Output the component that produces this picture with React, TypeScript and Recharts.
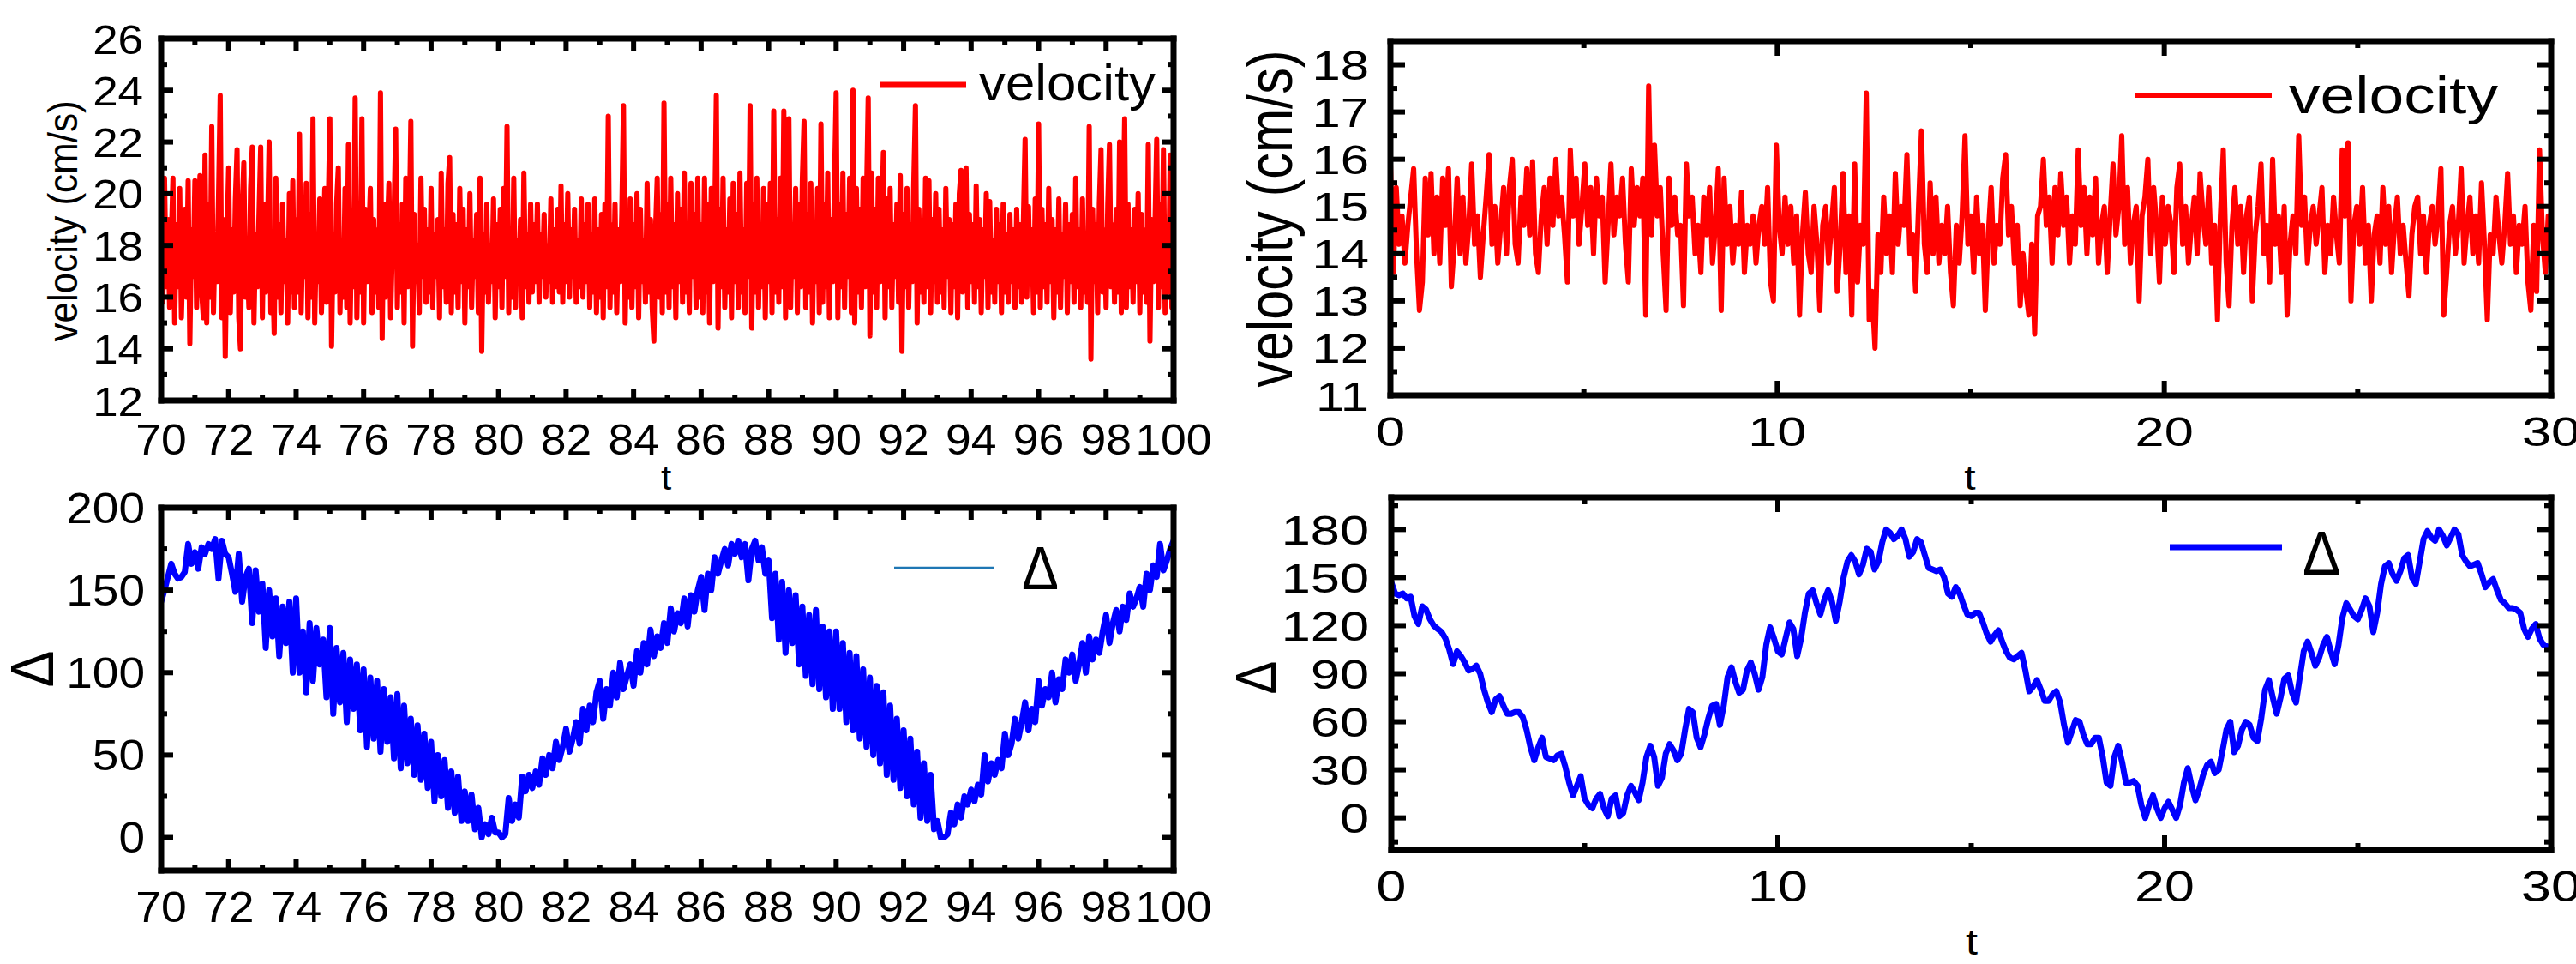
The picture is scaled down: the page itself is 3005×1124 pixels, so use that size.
import { LineChart, Line, XAxis, YAxis, Legend } from 'recharts'

const FONT = '"Liberation Sans", Arial, Helvetica, sans-serif'

// velocity, t = 70 .. 100, step 0.05 (one row per unit of t)
const velLeft = [
  20.4, 15.8, 20.6, 16.4, 19.0, 15.6, 18.2, 20.6, 15.0, 18.8, 16.4, 20.2, 15.2, 17.8, 19.4, 16.0, 20.5, 14.2, 18.6, 16.8,
  20.5, 15.6, 18.8, 20.7, 16.2, 15.2, 21.5, 15.0, 19.6, 16.0, 22.6, 15.4, 18.4, 16.6, 19.8, 23.8, 15.2, 19.0, 13.7, 18.2,
  21.0, 15.4, 18.6, 16.2, 19.8, 21.7, 15.2, 14.0, 19.4, 21.2, 16.0, 17.6, 15.6, 20.2, 21.8, 15.0, 18.4, 16.4, 19.2, 21.8,
  15.2, 19.6, 16.2, 18.4, 22.0, 15.4, 17.2, 14.6, 20.6, 16.0, 18.8, 15.4, 19.6, 16.6, 18.2, 15.0, 20.0, 16.2, 20.5, 15.6,
  19.0, 16.2, 22.3, 15.4, 18.6, 16.8, 20.4, 15.2, 19.2, 16.0, 22.9, 15.0, 18.2, 16.6, 19.8, 15.4, 17.6, 20.2, 15.8, 19.2,
  22.9, 14.1, 18.4, 16.2, 19.6, 21.0, 15.4, 18.2, 16.0, 20.2, 15.6, 21.9, 15.0, 18.6, 16.4, 23.7, 15.2, 19.0, 16.2, 22.9,
  15.0, 19.4, 16.6, 18.2, 20.2, 15.4, 19.0, 16.2, 18.6, 15.6, 23.9, 14.4, 19.6, 16.0, 18.4, 20.4, 15.2, 17.8, 19.0, 22.5,
  15.6, 18.8, 16.2, 19.6, 15.0, 20.6, 16.4, 18.2, 22.8, 14.1, 19.2, 16.6, 18.0, 15.4, 20.6, 16.8, 19.4, 15.8, 18.6, 16.2,
  20.2, 15.6, 18.4, 16.8, 19.0, 15.2, 20.8, 16.4, 18.6, 15.8, 20.4, 21.4, 15.4, 19.2, 16.2, 18.8, 15.6, 20.2, 16.6, 19.4,
  15.0, 18.6, 16.4, 20.0, 15.6, 18.2, 16.8, 19.2, 15.4, 20.6, 13.9, 18.4, 16.2, 19.6, 15.8, 18.0, 16.6, 19.8, 15.2, 18.8,
  16.4, 19.4, 15.6, 20.2, 16.8, 22.6, 15.4, 18.6, 16.0, 20.6, 15.6, 18.2, 16.6, 19.0, 15.2, 20.8, 16.4, 18.4, 15.8, 19.6,
  16.2, 18.8, 16.6, 19.6, 15.8, 18.4, 16.8, 19.2, 16.0, 18.0, 16.6, 19.8, 15.8, 18.6, 16.4, 19.4, 16.2, 20.3, 15.8, 18.8,
  16.6, 20.0, 16.0, 18.6, 16.8, 19.4, 15.8, 18.2, 16.4, 19.8, 16.0, 18.8, 16.6, 19.6, 15.6, 18.4, 16.2, 19.8, 15.4, 18.6,
  16.0, 19.2, 15.2, 19.6, 16.4, 23.0, 15.6, 18.8, 16.2, 19.6, 15.4, 18.6, 16.6, 19.2, 23.4, 15.0, 18.4, 16.0, 19.8, 15.6,
  18.8, 16.4, 20.0, 15.2, 19.4, 16.6, 18.2, 15.8, 20.4, 16.2, 19.0, 15.6, 14.3, 18.6, 20.6, 16.0, 19.2, 15.4, 23.5, 16.2,
  19.6, 15.6, 20.6, 16.4, 18.8, 15.2, 20.0, 16.6, 19.4, 15.8, 20.8, 16.2, 18.6, 15.4, 20.4, 16.8, 19.2, 15.6, 20.6, 16.0,
  18.8, 15.4, 20.6, 16.2, 19.6, 15.0, 20.2, 16.6, 18.8, 23.8, 14.8, 19.4, 16.4, 20.6, 15.6, 18.6, 16.2, 19.8, 15.2, 20.4,
  16.6, 19.2, 15.6, 20.8, 16.2, 18.6, 15.4, 20.4, 16.8, 23.4, 14.8, 19.6, 16.2, 20.6, 15.6, 18.8, 16.4, 20.2, 15.2, 19.6,
  16.6, 20.4, 15.4, 23.2, 16.2, 19.0, 15.8, 20.6, 16.4, 23.2, 15.2, 19.4, 22.9, 15.6, 18.8, 16.8, 20.2, 15.4, 19.6, 16.4,
  20.6, 22.8, 15.6, 19.2, 16.2, 20.4, 15.0, 18.8, 16.6, 20.2, 15.4, 22.7, 15.8, 19.6, 16.4, 20.8, 15.2, 19.0, 16.6, 20.4,
  23.9, 15.2, 19.6, 16.4, 20.8, 15.6, 19.2, 16.8, 20.6, 15.4, 24.0, 15.0, 20.2, 16.2, 19.4, 15.6, 20.6, 16.4, 19.8, 23.7,
  14.5, 20.8, 16.2, 19.4, 15.6, 20.6, 16.6, 19.0, 21.6, 15.2, 19.8, 16.4, 20.2, 15.6, 18.8, 16.8, 19.6, 15.8, 20.7, 13.9,
  19.2, 16.4, 20.2, 15.6, 18.8, 16.6, 20.4, 23.4, 15.0, 19.4, 16.2, 18.6, 15.8, 20.6, 16.4, 20.5, 15.4, 19.0, 16.6, 20.0,
  15.8, 19.4, 16.2, 18.6, 15.6, 20.2, 16.8, 19.0, 15.4, 18.8, 16.4, 19.6, 15.2, 20.0, 20.9, 16.2, 18.4, 21.0, 15.6, 19.2,
  16.6, 18.8, 15.8, 20.3, 16.4, 19.0, 15.4, 18.6, 16.8, 20.0, 15.6, 19.7, 16.2, 18.2, 15.8, 19.4, 16.6, 18.8, 15.4, 19.6,
  16.2, 18.4, 15.8, 19.2, 16.6, 18.6, 15.6, 19.4, 16.4, 18.8, 15.8, 19.0, 22.1, 16.0, 19.5, 16.6, 18.6, 15.4, 19.8, 16.2,
  22.7, 15.6, 19.4, 16.4, 18.8, 15.8, 20.2, 16.6, 19.0, 15.2, 18.6, 16.2, 19.8, 15.6, 18.4, 16.8, 19.6, 15.4, 18.8, 16.6,
  19.2, 15.8, 20.6, 16.4, 18.6, 15.6, 19.8, 16.2, 18.4, 15.8, 22.6, 13.6, 19.4, 16.6, 18.8, 15.4, 19.6, 21.7, 16.2, 18.6,
  15.6, 19.6, 21.9, 16.4, 18.8, 15.8, 19.4, 16.2, 22.0, 15.4, 18.8, 22.9, 15.6, 19.6, 16.4, 18.6, 15.8, 19.4, 16.6, 20.0,
  15.4, 19.2, 16.2, 18.6, 15.8, 21.9, 14.3, 19.0, 16.6, 18.8, 22.1, 15.6, 19.6, 16.4, 21.7, 15.4, 18.8, 16.2, 21.5, 15.6,
  18.4,
]

// velocity, t = 0 .. 30, step 0.075 (one row per 1.5 of t)
const velRight = [
  15.9, 13.6, 15.4, 14.2, 14.8, 13.8, 14.6, 15.2, 15.8, 14.0, 12.8, 13.4, 15.6, 14.4, 15.7, 14.0, 15.2, 13.8, 15.6, 14.6,
  15.8, 13.3, 14.2, 15.6, 14.0, 15.2, 13.8, 14.6, 15.9, 14.2, 14.8, 13.5, 14.4, 15.2, 16.1, 14.2, 15.0, 13.8, 14.6, 15.4,
  14.0, 15.4, 16.0, 14.2, 13.8, 15.2, 14.6, 15.8, 14.4, 15.95, 14.0, 13.6, 14.8, 15.4, 14.2, 15.6, 14.6, 16.0, 14.8, 15.2,
  14.4, 13.4, 16.2, 14.8, 15.6, 14.2, 15.0, 15.9, 14.6, 15.4, 14.0, 15.6, 14.8, 15.2, 13.4, 14.6, 15.9, 14.4, 15.2, 14.8,
  15.6, 14.2, 13.4, 15.8, 14.6, 15.4, 14.8, 15.6, 12.7, 17.55, 14.4, 16.3, 14.8, 15.4, 14.0, 12.8, 15.6, 14.6, 15.2, 14.4,
  14.6, 12.9, 15.9, 14.8, 15.2, 14.0, 14.6, 13.6, 15.2, 14.4, 15.4, 13.8, 14.6, 15.8, 12.8, 15.6, 14.2, 15.0, 13.8, 14.6,
  14.2, 15.3, 13.6, 14.6, 14.2, 14.8, 13.8, 14.6, 15.0, 14.2, 15.4, 13.4, 13.0, 16.3, 14.6, 14.0, 15.2, 14.2, 15.0, 13.8,
  14.8, 12.7, 14.4, 15.3, 14.0, 13.6, 15.0, 14.2, 12.8, 14.6, 15.0, 13.8, 14.6, 15.4, 13.2, 14.2, 15.7, 13.6, 14.8, 12.7,
  15.9, 13.4, 14.6, 14.2, 17.4, 12.6, 13.2, 12.0, 14.4, 13.6, 15.2, 14.0, 14.8, 13.6, 15.7, 14.2, 15.0, 14.6, 16.1, 14.0,
  14.4, 13.2, 15.0, 16.6, 14.2, 13.6, 15.5, 14.0, 15.2, 13.8, 14.6, 14.0, 15.0, 13.6, 12.9, 14.6, 13.8, 14.8, 16.5, 14.2,
  14.8, 13.6, 15.2, 14.0, 14.6, 12.8, 14.4, 15.4, 13.8, 14.6, 14.2, 15.6, 16.1, 14.4, 15.0, 13.8, 14.6, 12.9, 14.0, 13.2,
  12.7, 14.2, 12.3, 14.8, 15.0, 16.0, 14.6, 15.2, 13.8, 15.4, 14.4, 15.7, 14.6, 15.2, 13.8, 14.8, 14.2, 16.2, 14.6, 15.4,
  14.0, 15.2, 14.4, 15.6, 13.8, 14.6, 15.0, 13.6, 14.8, 15.9, 14.4, 15.0, 16.5, 14.2, 15.4, 13.8, 14.6, 15.0, 13.0, 14.8,
  15.2, 16.0, 14.0, 15.4, 14.6, 13.4, 15.2, 14.2, 15.0, 14.6, 13.6, 15.4, 15.9, 14.2, 15.0, 13.8, 14.6, 15.2, 14.0, 15.7,
  14.8, 14.2, 15.4, 13.8, 14.6, 12.6, 14.8, 16.2, 13.8, 12.9, 14.6, 15.4, 14.2, 15.0, 13.6, 14.8, 15.2, 13.0, 14.4, 15.0,
  15.9, 14.0, 14.6, 13.4, 16.0, 14.2, 14.8, 13.6, 15.0, 12.7, 14.2, 14.8, 14.0, 16.5, 14.6, 15.2, 13.8, 14.6, 15.0, 14.2,
  14.8, 15.4, 13.6, 14.6, 14.0, 15.2, 14.4, 13.8, 16.2, 14.8, 16.35, 13.0, 14.6, 15.0, 14.2, 15.4, 13.8, 14.6, 13.0, 14.4,
  14.8, 13.8, 15.4, 14.2, 15.0, 13.6, 14.6, 15.2, 14.0, 14.6, 13.8, 13.1, 14.4, 15.0, 15.2, 14.0, 14.8, 13.6, 14.6, 15.0,
  14.2, 14.8, 15.8, 12.7, 13.6, 14.6, 15.0, 14.0, 14.6, 15.8, 13.8, 14.6, 15.2, 14.0, 14.8, 13.8, 15.5, 14.2, 12.6, 14.4,
  14.0, 15.2, 14.4, 13.8, 14.6, 15.7, 14.2, 14.8, 13.6, 14.6, 14.2, 15.0, 13.4, 12.8, 14.6, 13.2, 16.2, 14.4, 13.6, 14.8,
  14.2,
]

// Δ, t = 70 .. 100, step 0.1
const deltaLeft = [
  143, 150, 158, 166, 160, 157, 158, 161, 178, 166,
  173, 163, 176, 172, 178, 175, 181, 157, 180, 172,
  170, 160, 149, 172, 143, 158, 163, 130, 162, 137,
  154, 115, 150, 122, 145, 110, 140, 118, 143, 100,
  145, 100, 125, 88, 130, 95, 127, 105, 120, 85,
  127, 75, 115, 82, 112, 70, 108, 78, 105, 65,
  102, 55, 97, 60, 95, 52, 90, 58, 85, 48,
  87, 42, 80, 45, 72, 38, 68, 35, 63, 30,
  58, 22, 50, 25, 47, 18, 40, 15, 37, 10,
  28, 10, 26, 5, 18, 0, 8, 2, 12, 3,
  3, 0, 2, 24, 10, 20, 12, 37, 28, 38,
  30, 40, 32, 48, 38, 50, 42, 58, 47, 55,
  66, 52, 60, 70, 57, 78, 65, 80, 70, 88,
  95, 72, 90, 80, 100, 85, 106, 90, 98, 105,
  92, 113, 100, 118, 105, 126, 110, 122, 115, 130,
  118, 139, 125, 136, 130, 145, 128, 147, 137, 150,
  158, 138, 160, 150, 170, 160, 168, 175, 165, 178,
  172, 180, 170, 178, 156, 175, 180, 168, 176, 160,
  168, 133, 160, 120, 155, 112, 150, 118, 147, 105,
  140, 98, 135, 93, 138, 90, 128, 85, 125, 78,
  125, 78, 118, 70, 112, 65, 110, 60, 102, 55,
  97, 50, 92, 45, 88, 38, 80, 35, 72, 30,
  65, 25, 60, 20, 52, 12, 45, 10, 38, 5,
  10, 0, 0, 2, 15, 8, 20, 12, 25, 20,
  29, 22, 32, 26, 50, 34, 45, 38, 47, 42,
  63, 50, 57, 72, 60, 70, 82, 65, 78, 70,
  95, 80, 90, 85, 100, 82, 96, 90, 108, 100,
  111, 95, 105, 118, 100, 122, 108, 120, 112, 125,
  135, 118, 130, 138, 125, 140, 132, 148, 140, 145,
  152, 140, 160, 150, 165, 158, 178, 162, 168, 175,
  180,
]

// Δ, t = 0 .. 30, step 0.1
const deltaRight = [
  147, 140, 139, 140, 137, 138, 126, 121, 132, 130,
  124, 120, 118, 116, 112, 105, 96, 104, 101, 97,
  92, 93, 95, 90, 80, 72, 66, 74, 76, 70,
  65, 65, 66, 66, 63, 55, 44, 36, 44, 50,
  38, 37, 36, 39, 40, 32, 22, 14, 20, 26,
  12, 8, 6, 12, 15, 6, 1, 12, 14, 1,
  3, 14, 20, 16, 11, 22, 38, 45, 38, 20,
  25, 40, 46, 42, 36, 40, 55, 68, 66, 50,
  44, 52, 62, 70, 71, 58, 70, 88, 94, 85,
  78, 80, 92, 97, 90, 80, 88, 108, 119, 112,
  104, 102, 112, 122, 118, 101, 112, 128, 140, 142,
  134, 127, 136, 142, 135, 123, 135, 150, 160, 164,
  160, 152, 158, 168, 166, 155, 160, 172, 180, 178,
  174, 176, 180, 174, 163, 166, 174, 172, 164, 156,
  155, 154, 155, 150, 140, 138, 144, 140, 133, 127,
  126, 128, 128, 122, 115, 110, 114, 117, 110, 104,
  100, 99, 101, 103, 92, 79, 82, 86, 80, 73,
  73, 77, 79, 72, 58, 47, 54, 61, 60, 52,
  46, 46, 50, 50, 38, 22, 20, 38, 45, 35,
  22, 22, 23, 20, 8, 0, 8, 14, 6, 0,
  6, 10, 5, 0, 8, 22, 31, 20, 11, 18,
  27, 33, 35, 28, 30, 42, 55, 60, 41, 45,
  55, 60, 58, 50, 48, 62, 80, 86, 75, 65,
  75, 87, 89, 78, 72, 88, 104, 110, 103, 95,
  100, 108, 113, 104, 96, 108, 125, 134, 130, 126,
  124, 130, 137, 132, 116, 128, 146, 157, 159, 152,
  148, 154, 162, 164, 150, 146, 160, 174, 179, 175,
  173, 180, 176, 170, 175, 180, 177, 164, 160, 157,
  158, 159, 152, 144, 147, 149, 142, 136, 134, 131,
  131, 130, 128, 118, 113, 118, 121, 112, 108, 107,
  106,
]

// ticks
const tLeftMajor = [70, 72, 74, 76, 78, 80, 82, 84, 86, 88, 90, 92, 94, 96, 98, 100]
const tLeftMinor = [71, 73, 75, 77, 79, 81, 83, 85, 87, 89, 91, 93, 95, 97, 99]
const tRightMajor = [0, 10, 20, 30]
const tRightMinor = [5, 15, 25]
const velLeftMajor = [12, 14, 16, 18, 20, 22, 24, 26]
const velLeftMinor = [13, 15, 17, 19, 21, 23, 25]
const velRightMajor = [11, 12, 13, 14, 15, 16, 17, 18]
const velRightMinor = [11.5, 12.5, 13.5, 14.5, 15.5, 16.5, 17.5, 18.5]
const deltaLeftMajor = [0, 50, 100, 150, 200]
const deltaLeftMinor = [25, 75, 125, 175]
const deltaRightMajor = [0, 30, 60, 90, 120, 150, 180]
const deltaRightMinor = [-15, 15, 45, 75, 105, 135, 165, 195]

const toRows = (vals: number[], t0: number, dt: number) =>
  vals.map((v, i) => ({ t: +(t0 + i * dt).toFixed(3), v }))

type Lab = { fs: number; sx: number; off: number }

function tickRenderer(side: string, edge: number, majors: number[], majorLen: number, minorLen: number, lab?: Lab) {
  return (p: any) => {
    const v = Number(p.payload.value)
    const major = majors.some((m) => Math.abs(m - v) < 1e-6)
    const len = major ? majorLen : minorLen
    const horiz = side === 'bottom' || side === 'top'
    const c = horiz ? p.x : p.y
    const dir = side === 'bottom' || side === 'right' ? -1 : 1
    const line = horiz
      ? <line x1={c} x2={c} y1={edge} y2={edge + dir * len} stroke="#000" strokeWidth={6} />
      : <line x1={edge} x2={edge + dir * len} y1={c} y2={c} stroke="#000" strokeWidth={6} />
    let text = null
    if (lab && major) {
      const tf = side === 'bottom'
        ? `translate(${c},${edge + lab.off}) scale(${lab.sx},1)`
        : `translate(${edge - lab.off},${c + lab.fs * 0.358}) scale(${lab.sx},1)`
      text = (
        <text transform={tf} textAnchor={side === 'bottom' ? 'middle' : 'end'} fontSize={lab.fs} fontFamily={FONT} fill="#000">
          {v}
        </text>
      )
    }
    return <g>{line}{text}</g>
  }
}

function Title({ px, py, text, fs, rot = false, gx = 1, gy = 1 }: any) {
  const tf = `translate(${px},${py})${rot ? ' rotate(-90)' : ''} scale(${gx},${gy})`
  return <text transform={tf} textAnchor="middle" fontSize={fs} fontFamily={FONT} fill="#000">{text}</text>
}

function Panel(cfg: any) {
  const { left, top, width, height, box, data, color, sw, xDom, yDom, xMajor, xMinor, yMajor, yMinor, lenMajor, lenMinor, xLab, yLab, yTitle, xTitle, legend } = cfg
  const frame = { stroke: '#000', strokeWidth: 7, strokeLinecap: 'square' }
  const xTicks = [...xMajor, ...xMinor].sort((a, b) => a - b)
  const yTicks = [...yMajor, ...yMinor].sort((a, b) => a - b)
  return (
    <div style={{ position: 'absolute', left, top, width, height }}>
      <LineChart width={width} height={height} data={data} margin={{ top: 0, right: 0, bottom: 0, left: 0 }}>
        <Line
          type="linear"
          dataKey="v"
          xAxisId="b"
          yAxisId="l"
          stroke={color}
          strokeWidth={sw}
          strokeLinejoin="round"
          strokeLinecap="round"
          dot={false}
          activeDot={false}
          isAnimationActive={false}
        />
        <XAxis
          xAxisId="b"
          orientation="bottom"
          dataKey="t"
          type="number"
          domain={xDom}
          allowDataOverflow
          ticks={xTicks}
          interval={0}
          height={height - box.B}
          axisLine={frame}
          tickLine={false}
          tick={tickRenderer('bottom', box.B, xMajor, lenMajor, lenMinor, xLab)}
          label={xTitle ? <Title {...xTitle} /> : undefined}
        />
        <XAxis
          xAxisId="t"
          orientation="top"
          dataKey="t"
          type="number"
          domain={xDom}
          allowDataOverflow
          ticks={xTicks}
          interval={0}
          height={box.T}
          axisLine={frame}
          tickLine={false}
          tick={tickRenderer('top', box.T, xMajor, lenMajor, lenMinor)}
        />
        <YAxis
          yAxisId="l"
          orientation="left"
          type="number"
          domain={yDom}
          allowDataOverflow
          ticks={yTicks}
          interval={0}
          width={box.L}
          axisLine={frame}
          tickLine={false}
          tick={tickRenderer('left', box.L, yMajor, lenMajor, lenMinor, yLab)}
          label={<Title {...yTitle} />}
        />
        <YAxis
          yAxisId="r"
          orientation="right"
          type="number"
          domain={yDom}
          allowDataOverflow
          ticks={yTicks}
          interval={0}
          width={width - box.R}
          axisLine={frame}
          tickLine={false}
          tick={tickRenderer('right', box.R, yMajor, lenMajor, lenMinor)}
        />
        <Legend
          layout="horizontal"
          verticalAlign="middle"
          align="center"
          wrapperStyle={{ left: legend.left, top: legend.top, width: 520, height: 120 }}
          content={() => (
            <svg width={520} height={120} style={{ display: 'block', overflow: 'visible' }}>
              <line x1={legend.x1} x2={legend.x2} y1={legend.y} y2={legend.y} stroke={legend.color} strokeWidth={legend.w} />
              <text
                transform={`translate(${legend.tx},${legend.ty}) scale(${legend.gx},1)`}
                fontSize={legend.fs}
                fontFamily={FONT}
                fill="#000"
              >
                {legend.text}
              </text>
            </svg>
          )}
        />
      </LineChart>
    </div>
  )
}

export default function App() {
  return (
    <div style={{ position: 'absolute', left: 0, top: 0, width: 3005, height: 1124, background: '#fff', overflow: 'hidden' }}>
      <Panel
        left={0} top={0} width={1500} height={600}
        box={{ L: 188, T: 45, R: 1369, B: 467 }}
        data={toRows(velLeft, 70, 0.05)}
        color="#ff0000" sw={6}
        xDom={[70, 100]} yDom={[12, 26]}
        xMajor={tLeftMajor} xMinor={tLeftMinor} yMajor={velLeftMajor} yMinor={velLeftMinor}
        lenMajor={14} lenMinor={7}
        xLab={{ fs: 50, sx: 1.07, off: 63 }} yLab={{ fs: 49, sx: 1.08, off: 21 }}
        yTitle={{ px: 90, py: 258, text: 'velocity (cm/s)', fs: 44, rot: true, gy: 1.08 }}
        xTitle={{ px: 777, py: 571, text: 't', fs: 40, gx: 1.1 }}
        legend={{ left: 1000, top: 60, x1: 27, x2: 127, y: 39, color: '#ff0000', w: 7, tx: 142, ty: 57, fs: 60, gx: 1.03, text: 'velocity' }}
      />
      <Panel
        left={1400} top={0} width={1605} height={600}
        box={{ L: 222, T: 48, R: 1576, B: 461 }}
        data={toRows(velRight, 0, 0.075)}
        color="#ff0000" sw={6}
        xDom={[0, 30]} yDom={[11, 18.5]}
        xMajor={tRightMajor} xMinor={tRightMinor} yMajor={velRightMajor} yMinor={velRightMinor}
        lenMajor={17} lenMinor={8}
        xLab={{ fs: 49, sx: 1.25, off: 59 }} yLab={{ fs: 49, sx: 1.22, off: 25 }}
        yTitle={{ px: 107, py: 255, text: 'velocity (cm/s)', fs: 61.5, rot: true, gy: 1.19 }}
        xTitle={{ px: 898, py: 571, text: 't', fs: 40, gx: 1.2 }}
        legend={{ left: 1050, top: 60, x1: 40, x2: 200, y: 51, color: '#ff0000', w: 6, tx: 220, ty: 72, fs: 61, gx: 1.2, text: 'velocity' }}
      />
      <Panel
        left={0} top={560} width={1500} height={564}
        box={{ L: 188, T: 32, R: 1369, B: 455 }}
        data={toRows(deltaLeft, 70, 0.1)}
        color="#0000ff" sw={7}
        xDom={[70, 100]} yDom={[-20, 200]}
        xMajor={tLeftMajor} xMinor={tLeftMinor} yMajor={deltaLeftMajor} yMinor={deltaLeftMinor}
        lenMajor={14} lenMinor={7}
        xLab={{ fs: 50, sx: 1.07, off: 60 }} yLab={{ fs: 50, sx: 1.1, off: 19 }}
        yTitle={{ px: 62, py: 220, text: 'Δ', fs: 70, rot: true, gx: 0.92 }}
        legend={{ left: 1000, top: 50, x1: 43, x2: 160, y: 52, color: '#1f77b4', w: 2.5, tx: 192, ty: 77, fs: 70, gx: 0.92, text: 'Δ' }}
      />
      <Panel
        left={1400} top={560} width={1605} height={564}
        box={{ L: 223, T: 20, R: 1576, B: 431 }}
        data={toRows(deltaRight, 0, 0.1)}
        color="#0000ff" sw={7}
        xDom={[0, 30]} yDom={[-20, 200]}
        xMajor={tRightMajor} xMinor={tRightMinor} yMajor={deltaRightMajor} yMinor={deltaRightMinor}
        lenMajor={17} lenMinor={8}
        xLab={{ fs: 49, sx: 1.28, off: 60 }} yLab={{ fs: 49, sx: 1.25, off: 26 }}
        yTitle={{ px: 88, py: 230, text: 'Δ', fs: 66, rot: true, gx: 0.88 }}
        xTitle={{ px: 900, py: 553, text: 't', fs: 42, gx: 1.2 }}
        legend={{ left: 1100, top: 40, x1: 31, x2: 162, y: 38, color: '#0000ff', w: 7, tx: 186, ty: 70, fs: 72, gx: 0.92, text: 'Δ' }}
      />
    </div>
  )
}
